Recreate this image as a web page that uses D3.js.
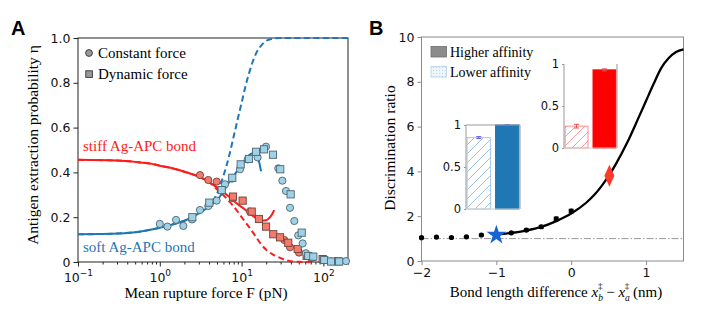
<!DOCTYPE html>
<html>
<head>
<meta charset="utf-8">
<script src="https://cdn.jsdelivr.net/npm/d3@7"></script>
<style>
	body { margin: 0; background: #fff; }
	.tick text { font-family: "DejaVu Sans", sans-serif; font-size: 12.5px; fill: #111; }
	.inset .tick text { font-size: 11.5px; }
</style>
</head>
<body>
<svg id="chart" width="706" height="318"></svg>
<script>
// ---- panel A data: [force (pN), extraction probability]
const forceTicks = [0.1, 1, 10, 100];
const etaTicks = [0, 0.2, 0.4, 0.6, 0.8, 1.0];

const softConstant = [[1.0,0.17],[1.24,0.158],[1.58,0.188],[1.94,0.161],[2.48,0.19],[3.1,0.232],[3.92,0.25],[4.96,0.274],[6.27,0.347],[7.63,0.372],[9.56,0.414],[11.9,0.458],[15.7,0.467],[19.9,0.515],[28.1,0.418],[31.5,0.363],[34.9,0.317],[39.1,0.242],[44.1,0.183],[49.3,0.119],[55.8,0.083],[61.2,0.039],[74.6,0.02],[101.7,0.008],[124,0.003],[189,0.004]];
const softDynamic = [[2.5,0.2],[4.03,0.265],[5.71,0.321],[7.7,0.376],[9.75,0.436],[12.3,0.46],[15.0,0.492],[18.8,0.503],[24.2,0.479],[29.7,0.414],[39.8,0.302],[54.3,0.131],[65.3,0.027],[75.3,0.024],[102.6,0.009],[124,0.002],[156,0.002]];
const stiffConstant = [[3.1,0.388],[3.92,0.366],[4.96,0.359],[7.85,0.285],[12.7,0.225],[33.3,0.098],[39.1,0.066],[50.3,0.042],[70.5,0.018]];
const stiffDynamic = [[7.85,0.292],[10.3,0.274],[13.3,0.225],[16.3,0.192],[19.9,0.158],[24.4,0.124],[29.5,0.11],[37.2,0.086],[48.5,0.058],[62.5,0.027],[98,0.013],[150,0.003]];

const softModel = [[0.1,0.124],[0.2,0.125],[0.5,0.133],[1,0.153],[1.5,0.17],[2,0.184],[3,0.217],[4,0.248],[5,0.277],[6,0.315],[7,0.355],[8,0.385],[9,0.41],[10,0.432],[11,0.455],[12.3,0.476],[13.3,0.484],[14.5,0.481],[15.5,0.47],[16.5,0.442],[17.3,0.405]];
const softDashed = [[0.1,0.124],[0.2,0.125],[0.5,0.133],[1,0.153],[1.5,0.17],[2,0.184],[3,0.217],[4,0.252],[5,0.305],[6,0.385],[7,0.47],[8,0.56],[9,0.64],[10,0.71],[11,0.775],[12.5,0.85],[15,0.93],[18,0.973],[23,0.996],[30,1],[200,1]];
const stiffModel = [[0.1,0.456],[0.3,0.453],[0.5,0.447],[0.8,0.438],[1,0.43],[1.5,0.416],[2,0.403],[3,0.381],[4,0.357],[5,0.333],[7,0.292],[9,0.258],[11,0.234],[13,0.212],[15,0.196],[17.5,0.184],[20,0.186],[22,0.198],[24,0.218],[25,0.232]];
const stiffDashed = [[0.1,0.456],[0.3,0.453],[0.5,0.447],[0.8,0.438],[1,0.43],[1.5,0.416],[2,0.403],[3,0.381],[4,0.357],[5,0.325],[6,0.298],[7,0.272],[8,0.248],[9.5,0.212],[11,0.18],[12.7,0.15],[15,0.112],[17,0.083],[20,0.055],[24,0.034],[28,0.022],[37,0.006],[50,0.001],[70,0]];

// ---- panel B data
const bondTicks = [-2, -1, 0, 1];
const ratioTicks = [0, 2, 4, 6, 8, 10];
const simDiff = [-2, -1.8, -1.6, -1.4, -1.2, -0.8, -0.6, -0.4, -0.2, 0];
const simRatio = [1.04, 1.07, 1.05, 1.08, 1.16, 1.26, 1.38, 1.53, 1.88, 2.23];
const simErr = [0.03, 0.03, 0.03, 0.03, 0.04, 0.04, 0.05, 0.06, 0.08, 0.08];
const theoryDiff = [-1, -0.8, -0.6, -0.4, -0.2, 0, 0.2, 0.3, 0.4, 0.5, 0.6, 0.75, 0.9, 1.0, 1.1, 1.2, 1.3, 1.4, 1.5];
const theoryRatio = [1.18, 1.25, 1.36, 1.52, 1.78, 2.12, 2.6, 2.92, 3.32, 3.8, 4.35, 5.3, 6.4, 7.15, 7.9, 8.6, 9.05, 9.33, 9.45];
const softPoint = [-1, 1.16];
const stiffPoint = [0.51, 3.81];

const insetGroups = ["Lower affinity", "Higher affinity"];
const softInsetValues = [0.85, 1.0];
const softInsetErrors = [0.012, 0.004];
const stiffInsetValues = [0.26, 0.93];
const stiffInsetErrors = [0.022, 0.012];

const blue = "#1f77b4", red = "#ff1a1a";
const serif = "'Liberation Serif', 'Times New Roman', serif";

const svg = d3.select("#chart");
const defs = svg.append("defs");

function label(x, y, str, size) {
	return svg.append("text").attr("x", x).attr("y", y)
		.style("font-family", serif).style("font-size", size + "px").text(str);
}

function hatch(id, color) {
	const p = defs.append("pattern").attr("id", id)
		.attr("patternUnits", "userSpaceOnUse").attr("width", 9).attr("height", 9);
	p.append("path").attr("d", "M0,9 L9,0 M-2,2 L2,-2 M7,11 L11,7")
		.attr("stroke", color).attr("stroke-width", 1);
}
hatch("hatchBlue", "#9cc3e4");
hatch("hatchRed", "#ff9a9a");
const dots = defs.append("pattern").attr("id", "dotsBlue")
	.attr("patternUnits", "userSpaceOnUse").attr("width", 3).attr("height", 3);
dots.append("rect").attr("width", 3).attr("height", 3).attr("fill", "#eef5fb");
dots.append("circle").attr("cx", 1.5).attr("cy", 1.5).attr("r", 0.6).attr("fill", "#b9d3ea");

function cleanAxis(g, color) {
	g.attr("font-size", null).attr("font-family", null);
	g.select(".domain").remove();
	g.selectAll(".tick line").attr("stroke", color);
}

// ================= Panel A =================
const xA = d3.scaleLog().domain([0.1, 200]).range([78, 348]);
const yA = d3.scaleLinear().domain([0, 1]).range([262, 38]);

const minorTicks = [];
[0.1, 1, 10, 100].forEach(dec => {
	for (let k = 2; k <= 9; k++) if (dec * k <= 200) minorTicks.push(dec * k);
});

svg.append("g").attr("transform", "translate(0,262)")
	.call(d3.axisBottom(xA).tickValues(minorTicks).tickSize(2.5).tickFormat(""))
	.call(g => cleanAxis(g, "#222"));

const gxA = svg.append("g").attr("transform", "translate(0,262)")
	.call(d3.axisBottom(xA).tickValues(forceTicks).tickSize(4.5).tickFormat(""))
	.call(g => cleanAxis(g, "#222"));
gxA.selectAll(".tick").append("text")
	.attr("y", 20).attr("text-anchor", "middle")
	.each(function(d) {
		const t = d3.select(this);
		t.append("tspan").text("10");
		t.append("tspan").attr("dy", -6).style("font-size", "9px")
			.text(String(Math.round(Math.log10(d))).replace("-", "\u2212"));
	});

svg.append("g").attr("transform", "translate(78,0)")
	.call(d3.axisLeft(yA).tickValues(etaTicks).tickSize(4.5)
		.tickFormat(d => d === 0 ? "0" : d3.format(".1f")(d)))
	.call(g => cleanAxis(g, "#222"));

svg.append("rect").attr("x", 78).attr("y", 38).attr("width", 270).attr("height", 224)
	.attr("fill", "none").attr("stroke", "#222").attr("stroke-width", 1);

const lineA = d3.line().x(d => xA(d[0])).y(d => yA(d[1])).curve(d3.curveMonotoneX);
const plotA = svg.append("g");

plotA.append("path").attr("d", lineA(softDashed)).attr("fill", "none")
	.attr("stroke", blue).attr("stroke-width", 2).attr("stroke-dasharray", "6,3.5");
plotA.append("path").attr("d", lineA(stiffDashed)).attr("fill", "none")
	.attr("stroke", red).attr("stroke-width", 2).attr("stroke-dasharray", "6,3.5");
plotA.append("path").attr("d", lineA(softModel)).attr("fill", "none")
	.attr("stroke", blue).attr("stroke-width", 2);
plotA.append("path").attr("d", lineA(stiffModel)).attr("fill", "none")
	.attr("stroke", red).attr("stroke-width", 2);

function circles(data, fill, edge) {
	plotA.selectAll(null).data(data).enter().append("circle")
		.attr("cx", d => xA(d[0])).attr("cy", d => yA(d[1])).attr("r", 3.6)
		.attr("fill", fill).attr("stroke", edge).attr("stroke-width", 0.9);
}
function squares(data, fill, edge) {
	plotA.selectAll(null).data(data).enter().append("rect")
		.attr("x", d => xA(d[0]) - 3.6).attr("y", d => yA(d[1]) - 3.6)
		.attr("width", 7.2).attr("height", 7.2)
		.attr("fill", fill).attr("stroke", edge).attr("stroke-width", 0.9);
}
const lightBlue = "#9fd2e6", blueEdge = "#4d6470";
const salmon = "#f47a6a", redEdge = "#70403a";
circles(stiffConstant, salmon, redEdge);
squares(stiffDynamic, salmon, redEdge);
circles(softConstant, lightBlue, blueEdge);
squares(softDynamic, lightBlue, blueEdge);

// legend A
svg.append("circle").attr("cx", 89).attr("cy", 53).attr("r", 3.4)
	.attr("fill", "#999").attr("stroke", "#333").attr("stroke-width", 0.9);
svg.append("rect").attr("x", 85.8).attr("y", 70.8).attr("width", 6.6).attr("height", 6.6)
	.attr("fill", "#999").attr("stroke", "#333").attr("stroke-width", 0.9);
label(98, 53, "Constant force", 15).attr("dy", "0.35em");
label(98, 74, "Dynamic force", 15).attr("dy", "0.35em");

label(83, 146, "stiff Ag-APC bond", 15).attr("dy", "0.35em").attr("fill", red);
label(83, 247, "soft Ag-APC bond", 15).attr("dy", "0.35em").attr("fill", blue);

label(206, 298, "Mean rupture force F (pN)", 15.3).attr("text-anchor", "middle");
label(0, 0, "Antigen extraction probability \u03b7", 15.5)
	.attr("transform", "translate(38,145) rotate(-90)").attr("text-anchor", "middle");

svg.append("text").attr("x", 11).attr("y", 35)
	.style("font-family", "'Liberation Sans', Arial, sans-serif").style("font-size", "20px")
	.style("font-weight", "bold").text("A");

// ================= Panel B =================
const xB = d3.scaleLinear().domain([-2, 1.5]).range([421.5, 683.5]);
const yB = d3.scaleLinear().domain([0, 10]).range([261, 37]);
const axisGray = "#8a8a8a";

svg.append("g").attr("transform", "translate(0,261)")
	.call(d3.axisBottom(xB).tickValues(bondTicks).tickSize(4).tickFormat(d3.format("d")))
	.call(g => cleanAxis(g, axisGray));
svg.append("g").attr("transform", "translate(421.5,0)")
	.call(d3.axisLeft(yB).tickValues(ratioTicks).tickSize(4))
	.call(g => cleanAxis(g, axisGray));
svg.append("rect").attr("x", 421.5).attr("y", 37).attr("width", 262).attr("height", 224)
	.attr("fill", "none").attr("stroke", axisGray).attr("stroke-width", 1);

svg.append("line").attr("x1", xB(-2)).attr("x2", xB(1.5)).attr("y1", yB(1)).attr("y2", yB(1))
	.attr("stroke", "#999").attr("stroke-width", 1).attr("stroke-dasharray", "7,2,1.5,2");

const theory = theoryDiff.map((d, i) => [d, theoryRatio[i]]);
svg.append("path")
	.attr("d", d3.line().x(d => xB(d[0])).y(d => yB(d[1])).curve(d3.curveMonotoneX)(theory))
	.attr("fill", "none").attr("stroke", "#000").attr("stroke-width", 2.3);

const sims = simDiff.map((d, i) => ({ x: d, y: simRatio[i], e: simErr[i] }));
const simG = svg.append("g");
simG.selectAll(null).data(sims).enter().append("path")
	.attr("d", d => `M${xB(d.x)},${yB(d.y - d.e)}V${yB(d.y + d.e)}M${xB(d.x) - 2.5},${yB(d.y + d.e)}h5M${xB(d.x) - 2.5},${yB(d.y - d.e)}h5`)
	.attr("stroke", "#000").attr("stroke-width", 1);
simG.selectAll(null).data(sims).enter().append("circle")
	.attr("cx", d => xB(d.x)).attr("cy", d => yB(d.y)).attr("r", 2.6).attr("fill", "#000");

svg.append("path").attr("d", d3.symbol(d3.symbolStar, 120)())
	.attr("transform", `translate(${xB(softPoint[0])},${yB(softPoint[1])})`)
	.attr("fill", "#1763d6");
svg.append("path").attr("d", "M0,-11L5,0L0,11L-5,0Z")
	.attr("transform", `translate(${xB(stiffPoint[0])},${yB(stiffPoint[1])})`)
	.attr("fill", "#ff3a2a");

// insets
function inset(x0, x1, yTop, yBot, values, errors, solid, hatchId, light, errColor, topSpine) {
	const g = svg.append("g").attr("class", "inset");
	const xs = d3.scaleBand().domain(insetGroups).range([x0, x1]).paddingInner(0.18).paddingOuter(0.04);
	const ys = d3.scaleLinear().domain([0, 1]).range([yBot, yTop]);
	g.append("rect").attr("x", x0).attr("y", yTop).attr("width", x1 - x0).attr("height", yBot - yTop)
		.attr("fill", "#fff");
	g.selectAll(null).data(insetGroups).enter().append("rect")
		.attr("x", d => xs(d)).attr("width", xs.bandwidth())
		.attr("y", (d, i) => ys(values[i])).attr("height", (d, i) => yBot - ys(values[i]))
		.attr("fill", (d, i) => i === 0 ? `url(#${hatchId})` : solid)
		.attr("stroke", (d, i) => i === 0 ? light : solid).attr("stroke-width", 1);
	g.selectAll(null).data(insetGroups).enter().append("path")
		.attr("d", (d, i) => {
			const cx = xs(d) + xs.bandwidth() / 2;
			const a = ys(values[i] - errors[i]), b = ys(values[i] + errors[i]);
			return `M${cx},${a}V${b}M${cx - 2.5},${a}h5M${cx - 2.5},${b}h5`;
		})
		.attr("stroke", errColor).attr("stroke-width", 1);
	g.append("g").attr("transform", `translate(${x0},0)`)
		.call(d3.axisLeft(ys).tickValues([0, 0.5, 1]).tickSize(2)
			.tickFormat(d => d === 0.5 ? "0.5" : String(d)))
		.call(a => cleanAxis(a, "#999"));
	g.append("line").attr("x1", x0).attr("x2", x0).attr("y1", yTop).attr("y2", yBot).attr("stroke", "#999");
	g.append("line").attr("x1", x1).attr("x2", x1).attr("y1", yTop).attr("y2", yBot).attr("stroke", "#999");
	g.append("line").attr("x1", x0).attr("x2", x1).attr("y1", yBot).attr("y2", yBot).attr("stroke", "#ccc");
	if (topSpine) g.append("line").attr("x1", x0).attr("x2", x1).attr("y1", yTop).attr("y2", yTop).attr("stroke", "#999");
}
inset(466, 520, 125, 209, softInsetValues, softInsetErrors, blue, "hatchBlue", "#a8cbe8", "#6a5ee0", true);
inset(564, 617, 64, 148, stiffInsetValues, stiffInsetErrors, "#ff0000", "hatchRed", "#ff8c8c", "#e05050", false);

// legend B
svg.append("rect").attr("x", 431).attr("y", 46.5).attr("width", 15.5).attr("height", 10.5)
	.attr("fill", "#8c8c8c").attr("stroke", "#6e6e6e").attr("stroke-width", 0.8);
svg.append("rect").attr("x", 431).attr("y", 66.5).attr("width", 15.5).attr("height", 10.5)
	.attr("fill", "url(#dotsBlue)").attr("stroke", "#b8cfe3").attr("stroke-width", 0.8);
label(450, 52, "Higher affinity", 14).attr("dy", "0.35em");
label(450, 72.5, "Lower affinity", 14).attr("dy", "0.35em");

const xl = label(556, 297, "", 15).attr("text-anchor", "middle");
xl.append("tspan").text("Bond length difference ");
xl.append("tspan").style("font-style", "italic").text("x");
xl.append("tspan").style("font-size", "9.5px").style("font-style", "italic").attr("dy", 4).text("b");
xl.append("tspan").style("font-size", "9px").attr("dx", -5).attr("dy", -12.5).text("\u2021");
xl.append("tspan").attr("dy", 8.5).text(" \u2212 ");
xl.append("tspan").style("font-style", "italic").text("x");
xl.append("tspan").style("font-size", "9.5px").style("font-style", "italic").attr("dy", 4).text("a");
xl.append("tspan").style("font-size", "9px").attr("dx", -5).attr("dy", -12.5).text("\u2021");
xl.append("tspan").attr("dy", 8.5).text(" (nm)");

label(0, 0, "Discrimination ratio", 15.5)
	.attr("transform", "translate(395,148) rotate(-90)").attr("text-anchor", "middle");

svg.append("text").attr("x", 369).attr("y", 35)
	.style("font-family", "'Liberation Sans', Arial, sans-serif").style("font-size", "20px")
	.style("font-weight", "bold").text("B");
</script>
</body>
</html>
